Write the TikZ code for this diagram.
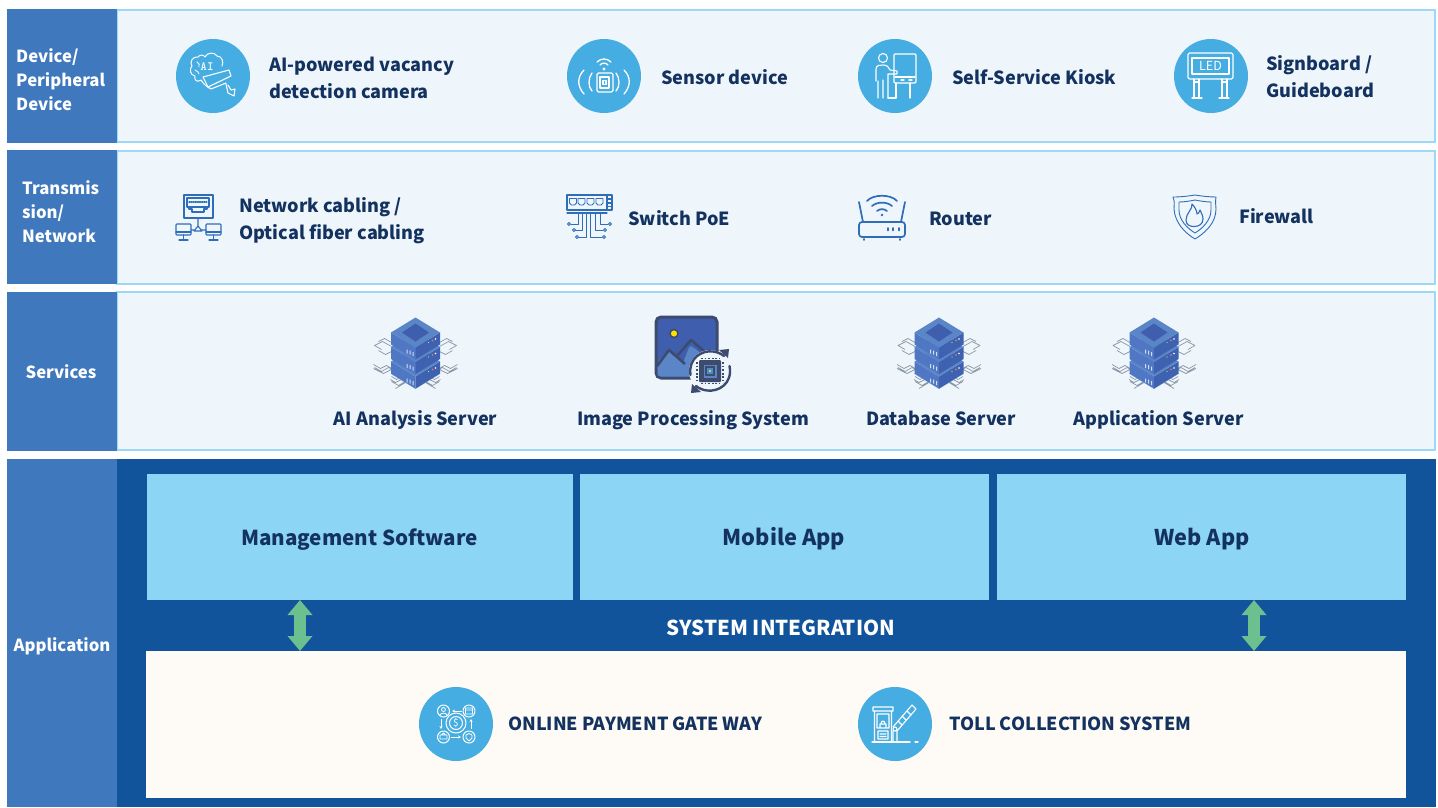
\documentclass[tikz,border=0pt]{standalone}
\usepackage{fontspec}
\setmainfont{Noto Sans CJK SC}
\usetikzlibrary{arrows.meta}
\definecolor{sidebar}{HTML}{3F78BD}
\definecolor{paneledge}{HTML}{9CD9F6}
\definecolor{panelfill}{HTML}{EEF6FB}
\definecolor{deepblue}{HTML}{11549B}
\definecolor{skyblue}{HTML}{8CD5F5}
\definecolor{cream}{HTML}{FEFAF5}
\definecolor{navy}{HTML}{14325F}
\definecolor{disc}{HTML}{45ADE2}
\definecolor{arrowgreen}{HTML}{6CBF8E}
\definecolor{iconblue}{HTML}{2F6DB8}
\definecolor{srvtop}{HTML}{5A86C8}
\definecolor{srvin}{HTML}{3F5FAE}
\definecolor{srvl}{HTML}{5077C4}
\definecolor{srvr}{HTML}{3F62B0}
\definecolor{trace}{HTML}{8C97A8}
\definecolor{slate}{HTML}{3D4B6E}
\tikzset{
 x=1pt,y=-1pt,
 sidebox/.style={fill=sidebar,draw=none},
 panel/.style={fill=panelfill,draw=paneledge,line width=1.5pt},
 sidetext/.style={font=\fontsize{16.7}{24}\selectfont\bfseries,text=white,align=left,inner sep=0pt},
 itemtext/.style={font=\fontsize{18.1}{27}\selectfont\bfseries,text=navy,align=left,inner sep=0pt,anchor=west},
 srvtext/.style={font=\fontsize{18.1}{27}\selectfont\bfseries,text=navy,inner sep=0pt,anchor=base},
 apptext/.style={font=\fontsize{#1}{27}\selectfont\bfseries,text=navy,inner sep=0pt,anchor=base},
 capstext/.style={font=\fontsize{18}{27}\selectfont\bfseries,text=navy,inner sep=0pt,anchor=base west},
 whiteicon/.style={draw=white,line width=1.1pt,line cap=round,line join=round},
 blueicon/.style={draw=iconblue,line width=1.1pt,line cap=round,line join=round},
 discshape/.style={fill=disc,draw=none},
 bothway/.style={draw=arrowgreen,line width=12.5pt,{Triangle[length=15pt,width=24pt]}-{Triangle[length=15pt,width=24pt]}},
}
\newcommand{\serverlayer}[1]{%
 \fill[srvl] (-24.5,#1) -- (0,#1+15) -- (0,#1+27) -- (-24.5,#1+12) -- cycle;
 \fill[srvr] (24.5,#1) -- (0,#1+15) -- (0,#1+27) -- (24.5,#1+12) -- cycle;
 \fill[srvtop] (-24.5,#1) -- (0,#1-15) -- (24.5,#1) -- (0,#1+15) -- cycle;
 \fill[white!75!srvl] (-9,#1+17) rectangle +(1.2,4) (-6,#1+18) rectangle +(1.2,4) (-3,#1+19.500) rectangle +(1.2,4);
 \fill[red!55!white] (17,#1+8) circle[radius=.9];
 \fill[green!50!white] (13,#1+10) circle[radius=.7];
 \fill[white] (20,#1+6.5) circle[radius=.8];
}
\newcommand{\servericon}[1]{%
 \begin{scope}[shift={(#1,332.5)}]
  \draw[trace,line width=.7pt,line join=round]
   (-24,10) -- (-31,6) -- (-37,9) (-24,14) -- (-33,9) -- (-41,13) -- (-34,17) (-24,19) -- (-30,22) -- (-37,18)
   (24,10) -- (31,6) -- (37,9) (24,14) -- (33,9) -- (41,13) -- (34,17) (24,19) -- (30,22) -- (37,18)
   (-22,37) -- (-29,33) -- (-35,36) -- (-42,32)
   (-18,40) -- (-27,35) -- (-34,39) -- (-41,35)
   (-14,42) -- (-24,37) -- (-32,41) -- (-42,36)
   (-12,43) -- (-19,47) -- (-24,44) (-10,45) -- (-20,50) -- (-25,47) (-7,47) -- (-17,53) -- (-24,49) (-10,50) -- (-20,56)
   (22,37) -- (29,33) -- (35,36) -- (42,32)
   (18,40) -- (27,35) -- (34,39) -- (41,35)
   (14,42) -- (24,37) -- (32,41) -- (42,36)
   (12,43) -- (19,47) -- (24,44) (10,45) -- (20,50) -- (25,47) (7,47) -- (17,53) -- (24,49) (10,50) -- (20,56);
  \draw[srvtop!70!white,line width=.8pt] (-24.5,41) -- (0,56) -- (24.5,41);
  \serverlayer{29}
  \serverlayer{14.5}
  \serverlayer{0}
  \fill[srvin] (-13.5,0) -- (0,-9) -- (13.5,0) -- (0,9) -- cycle;
 \end{scope}}
\begin{document}
\begin{tikzpicture}
\useasboundingbox (0,0) rectangle (1438,807);
\fill[white] (0,0) rectangle (1438,807);
% layers
\path[panel] (117,10) rectangle (1435,142);
\path[panel] (117,151) rectangle (1435,284);
\path[panel] (117,292) rectangle (1435,450);
\path[sidebox] (7,9) rectangle (117,143);
\path[sidebox] (7,150) rectangle (117,284);
\path[sidebox] (7,292) rectangle (117,451);
\path[fill=deepblue] (117,459) rectangle (1436,807);
\path[sidebox] (7,459) rectangle (117,807);
\node[sidetext,anchor=west] (lay1) at (16,79.500) {Device/\\Peripheral\\Device};
\node[sidetext,anchor=west] (lay2) at (22,212) {Transmis\\sion/\\Network};
\node[sidetext] (lay3) at (61,372) {Services};
\node[sidetext] (lay4) at (62,646) {Application};
% application boxes
\path[fill=skyblue] (147,474) rectangle (573,600);
\path[fill=skyblue] (580,474) rectangle (989,600);
\path[fill=skyblue] (997,474) rectangle (1406,600);
\path[fill=cream] (146,651) rectangle (1406,798);
\node[apptext=20.6] (ms) at (359.500,545) {Management Software};
\node[apptext=21.8] (mob) at (784,545) {Mobile App};
\node[apptext=21.7] (web) at (1202,545) {Web App};
\node[font=\fontsize{20.5}{27}\selectfont\bfseries,text=white,inner sep=0pt] (si) at (781,627.500) {SYSTEM INTEGRATION};
\coordinate (a1t) at (300,600); \coordinate (a1b) at (300,651);
\coordinate (a2t) at (1254,600); \coordinate (a2b) at (1254,651);
\draw[bothway] (a1t) -- (a1b);
\draw[bothway] (a2t) -- (a2b);
% discs
\foreach \cx/\cy in {213/76,604/76,895/76,1211/76,456/724,895/724}
 \fill[discshape] (\cx,\cy) circle[radius=37];
% labels
\node[itemtext] (t1) at (269,78) {AI-powered vacancy\\detection camera};
\node[itemtext] (t2) at (661,77.500) {Sensor device};
\node[itemtext] (t3) at (952,77.500) {Self-Service Kiosk};
\node[itemtext] (t4) at (1266,77) {Signboard /\\Guideboard};
\node[itemtext] (t5) at (239,220.500) {Network cabling /\\Optical fiber cabling};
\node[itemtext] (t6) at (628,218) {Switch PoE};
\node[itemtext] (t7) at (929,218.500) {Router};
\node[itemtext] (t8) at (1239,216) {Firewall};
\node[srvtext] (s1) at (415.500,425) {AI Analysis Server};
\node[srvtext] (s2) at (693,425) {Image Processing System};
\node[srvtext] (s3) at (941,425) {Database Server};
\node[srvtext] (s4) at (1158.500,425) {Application Server};
\node[capstext] (c1) at (508,730) {ONLINE PAYMENT GATE WAY};
\node[capstext] (c2) at (949,730) {TOLL COLLECTION SYSTEM};
% --- AI camera icon
\draw[whiteicon,line width=1pt] (205,57) .. controls (207,52) and (215,52) .. (217,56) .. controls (222,56) and (224,62) .. (222,66)
  (201,80) .. controls (197,83) and (194,80) .. (195,76) .. controls (190,75) and (189,69) .. (192,66) .. controls (189,62) and (193,56) .. (198,57) .. controls (200,54) and (204,55) .. (205,57)
  (201,80) .. controls (204,85) and (207,86) .. (209,88);
\draw[whiteicon,line width=.8pt] (197,62) .. controls (199,63) and (200,65) .. (199,67) (195,70) .. controls (197,71) and (199,72) .. (199,74);
\node[font=\fontsize{12.5}{12}\selectfont\ttfamily\bfseries,text=white,inner sep=0pt] (aitxt) at (207,67) {AI};
\draw[whiteicon,fill=disc] (203,77) -- (229,70) -- (231,76) -- (208,87) -- cycle;
\draw[whiteicon] (208,87) -- (211,89) -- (226,83) (226,84) -- (228,93) -- (234,96) -- (235,89) -- (231,90) -- (228,85);
% --- sensor icon
\draw[whiteicon,line width=1.3pt,rounded corners=1.5pt] (597,73) rectangle (613,92);
\draw[whiteicon] (600,77) rectangle (609,88) (603,80.5) rectangle (606,84.5);
\fill[white] (604,69) circle[radius=1.6];
\draw[whiteicon,line width=1.3pt] (600,65) .. controls (602,62.5) and (606,62.5) .. (608,65);
\draw[whiteicon,line width=1.3pt] (597,62) .. controls (601,58) and (607,58) .. (611,62);
\draw[whiteicon,line width=1.3pt] (592,73) .. controls (588,78) and (588,87) .. (592,91);
\draw[whiteicon,line width=1.3pt] (584,70) .. controls (577,77) and (577,86) .. (584,94);
\draw[whiteicon,line width=1.3pt] (616,73) .. controls (620,78) and (620,87) .. (616,91);
\draw[whiteicon,line width=1.3pt] (624,70) .. controls (631,77) and (631,86) .. (624,94);
% --- kiosk icon
\draw[whiteicon,rounded corners=1pt] (894,54) rectangle (916,83);
\draw[whiteicon] (895,77) -- (915,77) (901,80) -- (904,80) (909,80) -- (912,80)
  (896,83) -- (896,98) -- (888,98) (910,83) -- (910,98);
\draw[whiteicon] (883,58) circle[radius=4.5];
\draw[whiteicon] (876,81) -- (876,69) .. controls (876,65) and (880,65) .. (883,65) .. controls (887,65) and (889,67) .. (890,70) -- (897,71) -- (897,74) -- (888,74) -- (888,98) (878,98) -- (878,81) (883,98) -- (883,80);
% --- LED icon
\draw[whiteicon,rounded corners=1.5pt] (1188,53) rectangle (1233,79);
\draw[whiteicon] (1192,58) rectangle (1229,74);
\node[font=\fontsize{12.5}{12}\selectfont,text=white,inner sep=0pt] (ledtxt) at (1210.5,66) {LED};
\draw[whiteicon] (1194,79) -- (1194,98) (1199,79) -- (1199,98) (1222,79) -- (1222,98) (1227,79) -- (1227,98)
  (1192,98) -- (1202,98) (1219,98) -- (1229,98) (1194,82) -- (1199,82) (1222,82) -- (1227,82);
% --- network icon
\draw[blueicon] (184,195) rectangle (213,218);
\draw[blueicon] (187,198) rectangle (209,207) (189,207) -- (189,209) -- (192,209) -- (192,212) -- (204,212) -- (204,209) -- (207,209) -- (207,207);
\draw[blueicon,densely dotted] (189,202) -- (207,202);
\draw[blueicon] (198,218) -- (198,226) (198,226) -- (194,231) -- (202,231) -- cycle
  (191,230) -- (194,230) (202,230) -- (206,230);
\foreach \mx in {176,206}{
 \draw[blueicon,rounded corners=.8pt] (\mx,224) rectangle (\mx+15,235);
 \draw[blueicon] (\mx+7.5,235) -- (\mx+7.5,240) (\mx+3,240) -- (\mx+12,240) (\mx,232) -- (\mx+15,232);
}
% --- switch icon
\draw[blueicon] (567,195) rectangle (612,210) (567,213) -- (607,213) (607,195) -- (607,210)
  (607,199) -- (612,199) (607,203) -- (612,203) (607,206.500) -- (612,206.500);
\foreach \px in {569.5,578,587,596}
 \draw[blueicon,line width=.9pt] (\px,198.500) -- (\px+7,198.500) -- (\px+7,203) -- (\px+5,205) -- (\px+2,205) -- (\px,203) -- cycle;
\draw[blueicon,line width=.9pt] (578,213) -- (578,224) -- (571,224) (582,213) -- (582,230) -- (575,230) (586,213) -- (586,237) -- (578,237)
  (590,213) -- (590,237) -- (602,237) (595,213) -- (595,230) -- (603,230) (600,213) -- (600,224) -- (608,224);
\foreach \qx/\qy in {569/224,574/230,577/237,604/237,605/230,610/224}
 \draw[blueicon,line width=.9pt,fill=panelfill] (\qx,\qy) circle[radius=1.5];
% --- router icon
\draw[blueicon,line width=1.7pt,rounded corners=3pt] (859,222) rectangle (905,237);
\draw[blueicon,line width=1.7pt] (863,222) -- (859,202) (901,222) -- (905,202)
  (864,239) -- (864,240) (900,239) -- (900,240);
\draw[blueicon,line width=1.7pt] (888,228) -- (888,230.500) (893,228) -- (893,230.500) (899,228) -- (899,230.500);
\fill[iconblue] (882,215) circle[radius=1.4];
\draw[blueicon,line width=1.7pt] (877,211) .. controls (880,208.500) and (884,208.500) .. (887,211);
\draw[blueicon,line width=1.7pt] (872,206) .. controls (877,201.500) and (887,201.500) .. (892,206);
\draw[blueicon,line width=1.7pt] (867,201) .. controls (873,194) and (891,194) .. (897,201);
% --- firewall icon
\draw[blueicon,line width=.9pt] (1195,195) .. controls (1201,196) and (1209,197) .. (1216,197) .. controls (1215,202) and (1216,205) .. (1216,209) .. controls (1216,223) and (1205,233) .. (1195,239) .. controls (1185,233) and (1175,223) .. (1174,209) .. controls (1174,205) and (1175,202) .. (1173,197) .. controls (1181,197) and (1189,196) .. (1195,195) -- cycle;
\draw[blueicon,line width=.9pt] (1195,200) .. controls (1200,201) and (1206,202) .. (1211,202) .. controls (1211,204) and (1211,207) .. (1211,210) .. controls (1211,220) and (1203,228) .. (1195,233) .. controls (1187,228) and (1179,220) .. (1179,210) .. controls (1179,207) and (1179,204) .. (1179,202) .. controls (1184,202) and (1190,201) .. (1195,200) -- cycle;
\draw[blueicon] (1192,204) .. controls (1193,209) and (1186,213) .. (1186,220) .. controls (1186,225) and (1190,226.500) .. (1194,226.500) .. controls (1199,226.500) and (1203,224) .. (1203,219) .. controls (1203,215) and (1201,213) .. (1200,210) .. controls (1199,213) and (1198,214) .. (1197,214) .. controls (1197,211) and (1195,207) .. (1192,204) -- cycle;
% --- servers
\servericon{415.5}
\servericon{939}
\servericon{1154}
% --- image processing icon
\draw[slate,line width=3pt,fill=srvin,rounded corners=5pt] (656,317) rectangle (717,378);
\fill[srvtop,rounded corners=3pt] (657.500,362) -- (669,350) -- (683,363) -- (690,345) -- (715,364) -- (715,376.500) -- (657.500,376.500) -- cycle;
\draw[slate,line width=2.6pt,line join=round] (657,366) -- (669,350) -- (685,364) (677,356) -- (691,340) -- (712,358);
\draw[slate,line width=1.5pt,fill=yellow!85!orange] (674,333.500) circle[radius=4];
\fill[panelfill] (710,371) circle[radius=21];
\draw[slate,line width=2.4pt,line cap=round] (690.500,375) .. controls (688,358) and (702,350) .. (713,351.500) .. controls (717,352) and (721,353.500) .. (724,356);
\draw[slate,line width=2.4pt,line cap=round] (729.500,366) .. controls (733,384) and (718,392) .. (707,390.500) .. controls (703,390) and (699,388.500) .. (696,386);
\fill[slate] (719,350) -- (728,358) -- (729,349) -- cycle (701,392) -- (692,384) -- (691,393) -- cycle;
\fill[slate,rounded corners=1pt] (699,360) rectangle (721,382);
\draw[slate,line width=1.3pt,dash pattern=on 1.8pt off 1.8pt] (697,362) -- (697,381) (723,362) -- (723,381) (701,358.500) -- (720,358.500) (701,383.500) -- (720,383.500);
\fill[srvtop] (703.500,364.500) rectangle (716.500,377.500);
\draw[slate,line width=1.2pt] (706,367) rectangle (714,375);
\fill[green!60!white] (709,370) rectangle (711,372);
% --- payment icon
\draw[whiteicon,line width=1pt] (456,723) circle[radius=10] (456,723) circle[radius=6.5];
\node[font=\fontsize{10}{10}\selectfont,text=white,inner sep=0pt] (dollar) at (456,723) {\$};
\foreach \sx/\sy in {443.500/711,469/711,443.500/737,469/737}
 \draw[whiteicon,line width=1pt] (\sx,\sy) circle[radius=6];
\draw[whiteicon,line width=.8pt] (443.500,709.500) circle[radius=2] (440,715) .. controls (441,712.500) and (446,712.500) .. (447,715)
  (465.500,708) rectangle (472.500,714) (465.500,710) -- (472.500,710)
  (440,739) rectangle (447,735) (441.500,735) -- (443.500,733) -- (445.500,735)
  (469,733.500) -- (472,735) -- (472,738) -- (469,741) -- (466,738) -- (466,735) -- cycle;
\draw[white,line width=1pt,-{Stealth[length=3pt,width=3pt]}] (462,711) -- (452,711);
\draw[white,line width=1pt,-{Stealth[length=3pt,width=3pt]}] (451,737) -- (461,737);
\draw[white,line width=1pt,-{Stealth[length=3pt,width=3pt]}] (441,719) -- (441,729);
\draw[white,line width=1pt,-{Stealth[length=3pt,width=3pt]}] (471,729) -- (471,719);
% --- toll icon
\draw[whiteicon] (873,707) rectangle (893,711) (874.500,711) -- (874.500,742) (891.500,711) -- (891.500,742)
  (877,714) rectangle (889,728) (878,731) rectangle (888,739) (880,734) -- (886,734) (880,736.500) -- (886,736.500)
  (880,728) -- (880,724) -- (886,724) -- (886,728) (881,724) .. controls (881,720) and (885,720) .. (885,724);
\draw[whiteicon] (872,742) -- (910,742) (915,742) -- (918,742);
\draw[whiteicon] (893,727) -- (912,705) -- (916,709) -- (897,731) (893,731) -- (893,742) (897,731) -- (897,742);
\draw[whiteicon] (895,729) circle[radius=2];
\draw[whiteicon] (898,721) -- (902,725) (902,716) -- (906,720) (907,711) -- (911,715);
\end{tikzpicture}
\end{document}
